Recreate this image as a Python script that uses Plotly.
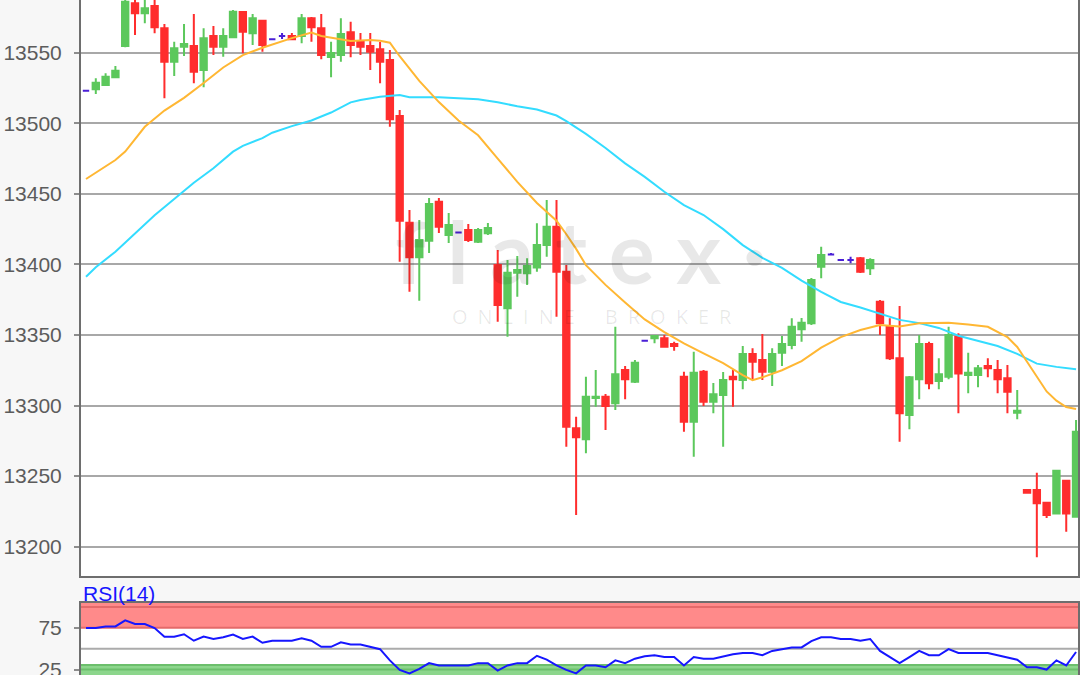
import plotly.graph_objects as go

# ---------------- data ----------------
candle_idx = list(range(102))

opens = [13523.1, 13524.1, 13527.1, 13532.6, 13554.7, 13585.0, 13577.9, 13583.1, 13567.3, 13543.6,
         13554.3, 13554.7, 13537.7, 13561.8, 13554.3, 13560.9, 13578.8, 13563.7, 13572.7, 13559.5,
         13561.8, 13561.8, 13561.8, 13574.4, 13567.3, 13546.9, 13548.4, 13564.5, 13557.8, 13554.7,
         13552.4, 13544.8, 13505.1, 13429.6, 13405.0, 13416.8, 13444.4, 13420.8, 13422.7, 13424.4,
         13416.1, 13422.0, 13399.6, 13368.9, 13394.1, 13393.7, 13397.9, 13413.8, 13426.7, 13394.8,
         13283.9, 13276.1, 13305.3, 13306.3, 13301.6, 13325.2, 13316.9, 13345.9, 13347.6, 13347.6,
         13343.6, 13320.4, 13288.6, 13324.0, 13302.7, 13307.5, 13320.4, 13318.1, 13336.5, 13332.3,
         13324.0, 13337.4, 13342.9, 13354.0, 13358.3, 13398.4, 13407.0, 13403.1, 13403.1, 13404.3,
         13397.3, 13373.6, 13355.9, 13333.5, 13293.3, 13318.6, 13343.6, 13317.4, 13320.4, 13348.8,
         13321.6, 13321.6, 13328.0, 13325.2, 13319.3, 13294.9, 13240.2, 13240.2, 13231.2, 13223.6,
         13246.8, 13221.2]
highs = [13523.1, 13531.9, 13535.4, 13540.6, 13587.3, 13590.0, 13589.0, 13591.0, 13570.3, 13557.8,
         13570.3, 13577.4, 13567.3, 13568.9, 13567.3, 13580.3, 13579.5, 13577.4, 13573.0, 13559.5,
         13564.0, 13564.0, 13577.4, 13575.3, 13577.4, 13557.8, 13574.4, 13572.0, 13564.0, 13564.0,
         13557.6, 13551.9, 13509.4, 13438.5, 13431.5, 13447.0, 13447.0, 13436.4, 13422.7, 13428.6,
         13425.8, 13429.3, 13410.2, 13403.1, 13405.9, 13404.3, 13429.1, 13445.6, 13445.6, 13399.6,
         13292.1, 13320.4, 13325.2, 13308.2, 13355.9, 13328.0, 13332.3, 13345.9, 13349.3, 13350.0,
         13345.2, 13324.0, 13338.2, 13325.2, 13316.0, 13323.8, 13325.2, 13342.2, 13340.6, 13350.7,
         13340.6, 13349.3, 13361.8, 13362.0, 13390.4, 13412.5, 13408.0, 13403.1, 13405.5, 13405.3,
         13404.3, 13374.8, 13361.8, 13370.5, 13320.9, 13350.0, 13345.2, 13333.5, 13355.9, 13351.2,
         13337.4, 13328.7, 13333.5, 13332.3, 13328.7, 13311.0, 13240.9, 13252.4, 13231.9, 13254.3,
         13247.3, 13289.8]
lows = [13523.1, 13520.7, 13526.4, 13532.0, 13553.8, 13562.5, 13570.8, 13563.8, 13517.7, 13533.5,
        13547.7, 13528.3, 13525.5, 13548.4, 13547.2, 13560.2, 13549.6, 13555.5, 13550.7, 13559.5,
        13559.7, 13559.0, 13556.7, 13557.8, 13545.3, 13532.6, 13543.6, 13546.7, 13548.4, 13537.7,
        13528.3, 13497.6, 13401.9, 13380.7, 13374.3, 13408.1, 13422.3, 13415.2, 13422.7, 13415.9,
        13415.2, 13420.8, 13359.4, 13348.8, 13377.1, 13385.4, 13394.8, 13405.5, 13362.9, 13270.8,
        13222.5, 13266.2, 13299.2, 13282.7, 13296.8, 13304.4, 13316.0, 13345.9, 13344.1, 13341.5,
        13338.9, 13281.5, 13263.8, 13299.7, 13294.5, 13270.8, 13299.2, 13311.5, 13318.1, 13318.1,
        13313.9, 13328.0, 13339.9, 13345.2, 13357.1, 13390.2, 13407.0, 13403.1, 13400.8, 13393.9,
        13392.5, 13350.0, 13332.3, 13274.4, 13283.2, 13304.4, 13311.5, 13311.5, 13318.6, 13294.5,
        13308.7, 13312.9, 13320.0, 13308.7, 13294.5, 13290.3, 13237.7, 13192.5, 13220.3, 13223.2,
        13210.6, 13221.0]
closes = [13523.1, 13528.7, 13533.0, 13537.2, 13586.1, 13577.9, 13581.5, 13568.0, 13543.6, 13553.1,
          13556.2, 13536.5, 13560.2, 13554.3, 13561.8, 13579.1, 13564.9, 13574.4, 13555.5, 13559.5,
          13561.8, 13559.5, 13574.4, 13568.0, 13548.4, 13549.8, 13563.2, 13555.5, 13554.3, 13550.7,
          13543.6, 13502.8, 13431.0, 13405.0, 13417.3, 13442.8, 13426.7, 13427.9, 13422.7, 13417.3,
          13424.4, 13425.8, 13371.2, 13394.1, 13396.0, 13398.9, 13413.8, 13426.7, 13394.8, 13285.0,
          13277.5, 13306.3, 13306.3, 13299.7, 13322.1, 13318.6, 13330.3, 13345.9, 13349.3, 13341.7,
          13342.2, 13288.6, 13323.3, 13302.7, 13308.0, 13318.1, 13318.6, 13336.5, 13331.1, 13324.0,
          13336.5, 13343.6, 13355.9, 13358.7, 13388.9, 13406.7, 13407.0, 13403.1, 13403.1, 13394.8,
          13403.1, 13358.3, 13333.5, 13294.5, 13320.0, 13343.6, 13315.8, 13322.1, 13350.0, 13322.8,
          13323.3, 13326.4, 13326.4, 13318.6, 13309.8, 13296.4, 13238.2, 13230.7, 13222.5, 13253.8,
          13223.6, 13281.5]

# moving averages (sampled at candle positions)
ma_fast_x = [0, 3, 4, 6, 8, 10, 12, 14, 16, 18, 21, 23, 24, 25, 27, 29, 30, 31, 32, 34, 36, 38, 40,
             42, 44, 46, 48, 49, 50, 51, 52, 53, 55, 57, 59, 61, 63, 65, 67, 68, 69, 71, 73, 75, 77,
             79, 81, 83, 85, 88, 90, 92, 94, 95, 96, 97, 98, 99, 100, 101]
ma_fast_y = [13460.5, 13474, 13480, 13497.5, 13509, 13518, 13528.5, 13539.5, 13548.3, 13553.5,
             13560.3, 13564.3, 13561.8, 13560.5, 13558.3, 13559, 13558.5, 13557.1, 13547.5, 13530,
             13515, 13502, 13491.5, 13475, 13458.5, 13443.5, 13431, 13421.4, 13411, 13399.5,
             13392.5, 13385.5, 13373, 13361, 13352, 13344, 13337, 13330, 13321.5, 13318, 13320,
             13325, 13331.5, 13341, 13348.5, 13353.5, 13357, 13356, 13358.3, 13358.7, 13357.5,
             13355.8, 13348.5, 13341.5, 13331, 13320.5, 13310, 13303.5, 13299, 13297.5]

ma_slow_x = [0, 1, 3, 5, 7, 9, 11, 13, 15, 16, 18, 19, 21, 23, 25, 27, 28, 30, 32, 33, 36, 40, 42,
             44, 46, 48, 49, 51, 53, 55, 57, 59, 61, 63, 65, 67, 69, 71, 73, 75, 77, 79, 81, 83, 85,
             87, 89, 91, 93, 95, 97, 99, 101]
ma_slow_y = [13391.3, 13398, 13409, 13422, 13434.8, 13446.3, 13457.9, 13468.1, 13479.9, 13484,
             13489.5, 13493.3, 13498, 13502, 13507.6, 13514.8, 13516.5, 13518.8, 13520, 13518.5,
             13518.4, 13517.1, 13514.9, 13512, 13509.7, 13505.5, 13501.5, 13492.5, 13482.5,
             13471.6, 13462, 13451.5, 13442, 13435, 13425, 13413.7, 13404.7, 13397.6, 13388.5,
             13380.5, 13373.4, 13369.5, 13364.9, 13360.7, 13358.4, 13355, 13349.5, 13345.6,
             13342.2, 13336.6, 13329.7, 13327.4, 13325.7]

rsi_values = [74.6, 74.6, 76.6, 76.6, 83.9, 79.5, 79.5, 74.6, 64.4, 64.4,
              67.3, 59.5, 64.4, 61.6, 63.6, 66.8, 61.6, 64.4, 57.1, 59.5,
              59.5, 59.5, 62.4, 59.5, 52.2, 52.2, 57.6, 55.1, 55.1, 52.2,
              49.4, 36.0, 24.6, 20.5, 25.9, 32.7, 29.9, 29.9, 29.9, 29.9,
              32.7, 32.7, 23.8, 29.9, 32.7, 32.7, 41.5, 37.0, 30.0, 24.6,
              20.5, 29.9, 29.9, 27.8, 36.0, 32.7, 38.0, 40.9, 42.1, 40.0,
              40.0, 29.9, 40.0, 38.0, 38.0, 40.9, 43.3, 44.9, 44.9, 42.1,
              47.3, 49.4, 51.5, 51.5, 59.1, 63.6, 63.6, 61.6, 61.6, 59.5,
              61.6, 47.3, 40.0, 32.7, 40.0, 47.3, 42.1, 42.1, 49.4, 44.9,
              44.9, 44.9, 44.9, 42.1, 39.2, 36.7, 27.8, 27.8, 25.0, 36.0,
              29.9, 46.0]

price_ticks = [13200, 13250, 13300, 13350, 13400, 13450, 13500, 13550]
rsi_ticks = [25, 75]
rsi_gridlines = [25, 50, 75, 100]
rsi_upper_band = [75, 105]
rsi_lower_band = [0, 30.5]

# ---------------- styling ----------------
GREEN = "#5cc85c"
RED = "#ff2d2d"
PURPLE = "#4a1fd6"
ORANGE = "#ffb733"
CYAN = "#33dcff"
BLUE = "#1616ff"
FRAME = "#6e6e6e"
GRID = "#a8a8a8"
LABEL = "#5c5c5c"
FONT = "Liberation Sans, Arial, sans-serif"

W, H = 1080, 675
main_bottom_px = 576.0
rsi_top_px = 602.7

normal = [i for i in candle_idx if opens[i] != closes[i]]
doji = [i for i in candle_idx if opens[i] == closes[i]]

fig = go.Figure()

fig.add_trace(go.Candlestick(
    x=[candle_idx[i] for i in normal],
    open=[opens[i] for i in normal],
    high=[highs[i] for i in normal],
    low=[lows[i] for i in normal],
    close=[closes[i] for i in normal],
    increasing=dict(line=dict(color=GREEN, width=2), fillcolor=GREEN),
    decreasing=dict(line=dict(color=RED, width=2), fillcolor=RED),
    whiskerwidth=0, showlegend=False, hoverinfo="skip",
    xaxis="x", yaxis="y",
))
fig.add_trace(go.Candlestick(
    x=[candle_idx[i] for i in doji],
    open=[opens[i] for i in doji],
    high=[highs[i] for i in doji],
    low=[lows[i] for i in doji],
    close=[closes[i] for i in doji],
    increasing=dict(line=dict(color=PURPLE, width=2), fillcolor=PURPLE),
    decreasing=dict(line=dict(color=PURPLE, width=2), fillcolor=PURPLE),
    whiskerwidth=0, showlegend=False, hoverinfo="skip",
    xaxis="x", yaxis="y",
))
fig.add_trace(go.Scatter(x=ma_slow_x, y=ma_slow_y, mode="lines",
                         line=dict(color=CYAN, width=2), showlegend=False,
                         hoverinfo="skip", xaxis="x", yaxis="y"))
fig.add_trace(go.Scatter(x=ma_fast_x, y=ma_fast_y, mode="lines",
                         line=dict(color=ORANGE, width=2), showlegend=False,
                         hoverinfo="skip", xaxis="x", yaxis="y"))
fig.add_trace(go.Scatter(x=candle_idx, y=rsi_values, mode="lines",
                         line=dict(color=BLUE, width=2), showlegend=False,
                         hoverinfo="skip", xaxis="x2", yaxis="y2"))

# RSI bands and guide lines
shapes = [
    dict(type="rect", xref="x2 domain", yref="y2", x0=0, x1=1,
         y0=rsi_upper_band[0], y1=rsi_upper_band[1], fillcolor="#ff8a8a",
         line=dict(width=0), layer="below"),
    dict(type="rect", xref="x2 domain", yref="y2", x0=0, x1=1,
         y0=rsi_lower_band[0], y1=rsi_lower_band[1], fillcolor="#8cd68c",
         line=dict(width=0), layer="below"),
    dict(type="line", xref="x2 domain", yref="y2", x0=0, x1=1,
         y0=rsi_lower_band[1], y1=rsi_lower_band[1],
         line=dict(color="#6cbf6c", width=2), layer="below"),
]
for g in rsi_gridlines:
    if g >= rsi_upper_band[0]:
        col = "#e46a6a"
    elif g <= rsi_lower_band[1]:
        col = "#6cbf6c"
    else:
        col = "#ababab"
    shapes.append(dict(type="line", xref="x2 domain", yref="y2", x0=0, x1=1,
                       y0=g, y1=g, line=dict(color=col, width=2), layer="below"))

x_range = [-0.51, 101.2]

fig.update_layout(
    width=W, height=H,
    margin=dict(l=81, r=2, t=0, b=0, autoexpand=False),
    paper_bgcolor="#f7f7f7", plot_bgcolor="#ffffff",
    showlegend=False,
    boxgap=0.35, boxgroupgap=0,
    shapes=shapes,
    xaxis=dict(domain=[0, 1], anchor="y", range=x_range, showticklabels=False,
               ticks="", showgrid=False, zeroline=False, showline=True,
               linecolor=FRAME, linewidth=2, rangeslider=dict(visible=False),
               fixedrange=True),
    yaxis=dict(domain=[1 - main_bottom_px / H, 1], anchor="x",
               range=[13179.24, 13587.34], tickmode="array", tickvals=price_ticks,
               tickformat="d",
               ticks="outside", ticklen=5, tickwidth=2, tickcolor="#8c8c8c",
               tickfont=dict(family=FONT, size=21, color=LABEL),
               showgrid=True, gridcolor=GRID, gridwidth=2, zeroline=False,
               showline=True, mirror=True, linecolor=FRAME, linewidth=2,
               automargin=False, ticklabelstandoff=8, ticklabeloverflow="allow"),
    xaxis2=dict(domain=[0, 1], anchor="y2", range=x_range, showticklabels=False,
                ticks="", showgrid=False, zeroline=False, showline=True, side="top",
                linecolor=FRAME, linewidth=2),
    yaxis2=dict(domain=[0, 1 - rsi_top_px / H], anchor="x2", range=[18.5, 105],
                tickmode="array", tickvals=rsi_ticks, tickformat="d",
                ticks="outside", ticklen=5,
                tickwidth=2, tickcolor="#8c8c8c",
                tickfont=dict(family=FONT, size=21, color=LABEL),
                showgrid=False, zeroline=False, showline=True, mirror=True,
                linecolor=FRAME, linewidth=2, automargin=False, ticklabelstandoff=8,
                ticklabeloverflow="allow"),
    annotations=[
        dict(text="RSI(14)", xref="paper", yref="paper", x=0.0005, y=1 - 593 / H,
             xanchor="left", yanchor="middle", showarrow=False,
             font=dict(family=FONT, size=21, color=BLUE)),
        dict(text="f\u2005l\u2005a\u2005t\u2005e\u2005x\u2005\u00b7", xref="paper", yref="paper",
             x=(580 - 81) / 997, y=1 - 250 / H, xanchor="center", yanchor="middle",
             showarrow=False,
             font=dict(family="Lato, Open Sans, sans-serif", size=86, color="rgba(0,0,0,0.09)",
                       weight=700)),
        dict(text="O\u2002N\u2002L\u2002I\u2002N\u2002E\u2002\u2002\u2002B\u2002R\u2002O\u2002K\u2002E\u2002R",
             xref="paper", yref="paper",
             x=(592 - 81) / 997, y=1 - 316 / H, xanchor="center", yanchor="middle",
             showarrow=False,
             font=dict(family="Open Sans, sans-serif", size=20, color="rgba(0,0,0,0.09)")),
    ],
)

fig.write_html("out.html",
               config={"displayModeBar": False},
               post_script="document.body.style.margin='0';document.body.style.overflow='hidden';")
